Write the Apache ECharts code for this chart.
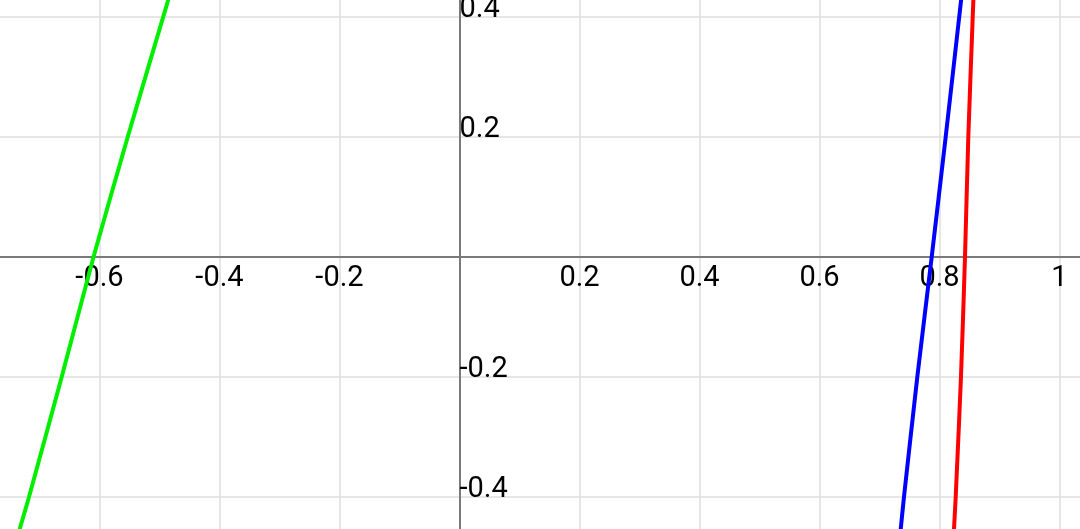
<!DOCTYPE html>
<html>
<head>
<meta charset="utf-8">
<script src="https://cdn.jsdelivr.net/npm/echarts@6/dist/echarts.min.js"></script>
<style>
html,body{margin:0;padding:0;background:#fff;}
#chart{width:1080px;height:529px;}
</style>
</head>
<body>
<div id="chart"></div>
<script>
// y sample levels shared by the curves (read at gridlines and frame edges)
const yLevels = [0.43, 0.2, 0, -0.2, -0.4, -0.46];
// x positions at those y levels
const greenX = [-0.485, -0.553, -0.610, -0.663, -0.7175, -0.735];
const blueX  = [0.8362, 0.8103, 0.787, 0.763, 0.7408, 0.7347];
const redX   = [0.8565, 0.848, 0.8425, 0.8358, 0.827, 0.8238];

const xTickStep = 0.2;
const yTickStep = 0.2;
// tick labels that are visible in the frame
const xTickLabels = ['-0.6','-0.4','-0.2','0.2','0.4','0.6','0.8','1'];
const yTickLabels = ['-0.4','-0.2','0.2','0.4'];

function pairs(xs){ return xs.map((x,i)=>[x, yLevels[i]]); }

const fontFamily = 'Roboto, "Noto Sans", sans-serif';
const chart = echarts.init(document.getElementById('chart'));

function makeFmt(list){
  return function(v){
    const s = String(Math.round(v*10)/10);
    return list.indexOf(s) >= 0 ? s : '';
  };
}

// grid: 600 px per unit on both axes; origin at (459.5, 257)
const gridLeft = -20.5, gridRight = -99.5, gridTop = -103, gridBottom = -88;

chart.setOption({
  animation:false,
  backgroundColor:'#ffffff',
  grid:{left:gridLeft, right:gridRight, top:gridTop, bottom:gridBottom, containLabel:false, outerBoundsMode:'none'},
  xAxis:{
    type:'value', min:-0.8, max:1.2, interval:xTickStep, position:'bottom', offset:-360,
    axisLine:{onZero:false, lineStyle:{color:'#7a7a7a', width:2}},
    axisTick:{show:false},
    splitLine:{show:true, lineStyle:{color:'#dedede', width:1.5}},
    axisLabel:{formatter:makeFmt(xTickLabels), color:'#000', fontSize:29, fontFamily:fontFamily, margin:7}
  },
  yAxis:{
    type:'value', min:-0.6, max:0.6, interval:yTickStep, position:'left', offset:-480,
    axisLine:{onZero:false, lineStyle:{color:'#7a7a7a', width:2}},
    axisTick:{show:false},
    splitLine:{show:true, lineStyle:{color:'#dedede', width:1.5}},
    axisLabel:{formatter:makeFmt(yTickLabels), inside:true, align:'left', verticalAlign:'bottom',
      lineHeight:14, margin:0, color:'#000', fontSize:29, fontFamily:fontFamily}
  },
  series:[
    {type:'line', data:pairs(greenX), showSymbol:false, smooth:0.2, lineStyle:{color:'#00ee00', width:4}},
    {type:'line', data:pairs(blueX), showSymbol:false, smooth:0.2, lineStyle:{color:'#0000ff', width:4}},
    {type:'line', data:pairs(redX), showSymbol:false, smooth:0.2, lineStyle:{color:'#ff0000', width:4}}
  ]
});
</script>
</body>
</html>
